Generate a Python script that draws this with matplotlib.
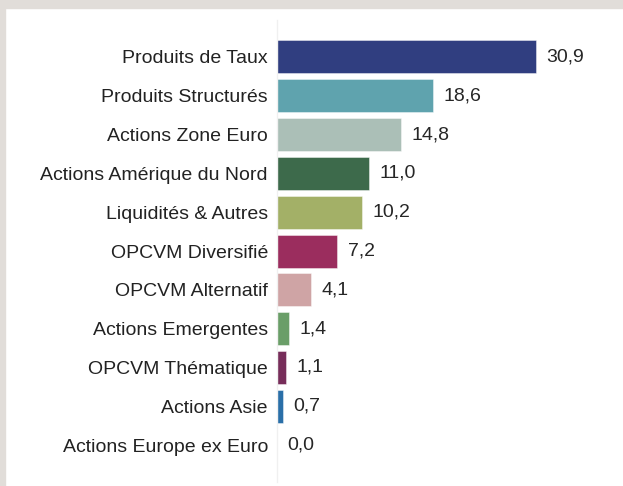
import matplotlib.pyplot as plt
from matplotlib.patches import Rectangle

categories = ["Produits de Taux", "Produits Structurés", "Actions Zone Euro",
              "Actions Amérique du Nord", "Liquidités & Autres", "OPCVM Diversifié",
              "OPCVM Alternatif", "Actions Emergentes", "OPCVM Thématique",
              "Actions Asie", "Actions Europe ex Euro"]
values = [30.9, 18.6, 14.8, 11.0, 10.2, 7.2, 4.1, 1.4, 1.1, 0.7, 0.0]
colors = ["#303e80", "#5fa3ae", "#abbfb7", "#3d6a4b", "#a3b067", "#9b2d5e",
          "#cfa4a5", "#6a9e68", "#772d5a", "#2a6fa8", "#888888"]

plt.rcParams['font.family'] = ['Liberation Sans', 'DejaVu Sans']

W, H = 623, 486
fig = plt.figure(figsize=(W / 100, H / 100), dpi=100)
fig.patch.set_facecolor("white")

# grey frame on top and left
fig.patches.append(Rectangle((0, 1 - 8 / H), 1, 8 / H, transform=fig.transFigure,
                             color="#e1ddd9", zorder=0))
fig.patches.append(Rectangle((0, 0), 5 / W, 1, transform=fig.transFigure,
                             color="#e1ddd9", zorder=0))

x0, x1 = 277, 596
y_top, y_bot = 20, 482
ax = fig.add_axes([x0 / W, (H - y_bot) / H, (x1 - x0) / W, (y_bot - y_top) / H])
ax.set_facecolor("none")

ypos = list(range(len(categories)))
ax.barh(ypos, values, height=0.85, color=colors, edgecolor=(1, 1, 1, 0.5), linewidth=0.6)
ax.set_xlim(0, (x1 - x0) / 8.38)
ax.set_ylim(len(categories) - 0.05, -0.95)

for y, v in zip(ypos, values):
    ax.text(v + 1.25, y, f"{v:.1f}".replace(".", ","), va="center", ha="left",
            fontsize=14, color="#262626")

ax.set_yticks(ypos)
ax.set_yticklabels(categories, fontsize=14, color="#222222")
ax.tick_params(axis="y", length=0, pad=6.5)
ax.set_xticks([])
for s in ["top", "right", "bottom"]:
    ax.spines[s].set_visible(False)
ax.spines["left"].set_color("#f0f0f0")
ax.spines["left"].set_linewidth(1)

fig.savefig("out.png", dpi=100)
